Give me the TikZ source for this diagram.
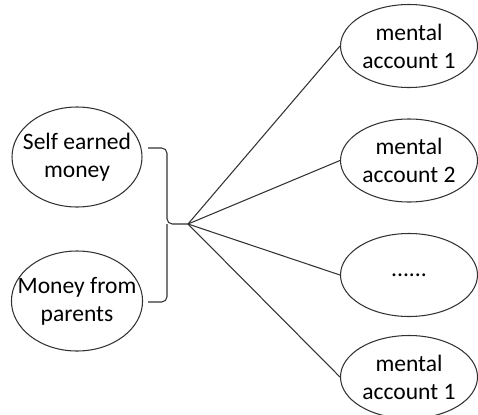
\documentclass[tikz,border=0pt]{standalone}
\usepackage{fontspec}
\setmainfont{Carlito}
\usetikzlibrary{shapes.geometric}
\definecolor{ink}{RGB}{50,50,50}
\tikzstyle{source} = [ellipse, minimum width=2.6cm, minimum height=2cm, inner xsep=-4.8pt, inner ysep=0pt, align=center, draw=ink, line width=0.6pt, font=\fontsize{13.4}{16}\selectfont]
\tikzstyle{account} = [ellipse, minimum width=2.74cm, minimum height=1.66cm, inner sep=0pt, align=center, draw=ink, line width=0.6pt, font=\fontsize{13.4}{16}\selectfont]
\tikzstyle{link} = [line width=0.6pt, draw=ink]
\tikzstyle{brace} = [line width=0.6pt, draw=ink, rounded corners=3pt]

\begin{document}
\begin{tikzpicture}
        \useasboundingbox (0,0) rectangle (9.56,-8.28);
        \node (node0) [source] at (1.54,-3.14) {Self earned\\money};
        \node (node1) [source, below of=node0, node distance=2.88cm, inner xsep=-7.4pt] {Money from\\parents};

        \node (node2) [account] at (8.18,-0.92) {mental\\account 1};
        \node (node3) [account, below of=node2, node distance=2.29cm] {mental\\account 2};
        \node (node4) [account, below of=node3, node distance=2.29cm] {......};
        \node (node5) [account, below of=node4, node distance=2.29cm, yshift=0.25cm] {mental\\account 1};

        \coordinate (top) at (2.96,-2.96);
        \coordinate (bottom) at (2.96,-6.04);
        \coordinate (hub) at (3.76,-4.48);

        \draw [brace] (top) -- (3.34,-2.96) -- (3.34,-4.48) -- (hub);
        \draw [brace] (bottom) -- (3.34,-6.04) -- (3.34,-4.48);

        \draw [link] (hub) -- (node2.west);
        \draw [link] (hub) -- (node3.west);
        \draw [link] (hub) -- (node4.west);
        \draw [link] (hub) -- (node5.west);
    \end{tikzpicture}
\end{document}
